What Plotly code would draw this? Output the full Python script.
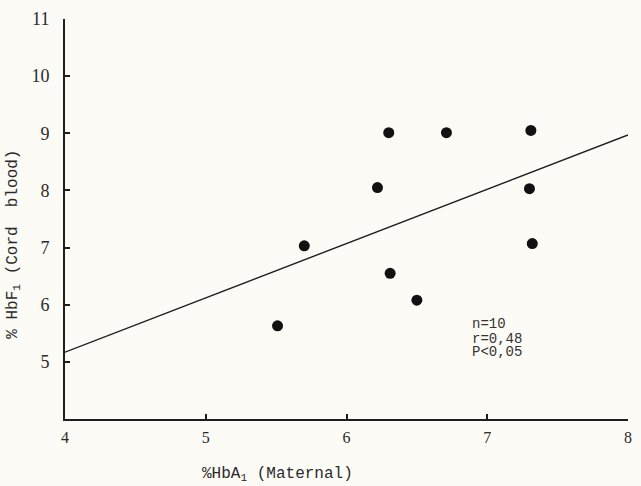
import plotly.graph_objects as go

# Data
hba1_maternal = [5.51, 5.70, 6.22, 6.30, 6.31, 6.50, 6.71, 7.31, 7.30, 7.32]
hbf1_cord = [5.63, 7.03, 8.05, 9.01, 6.55, 6.08, 9.01, 9.05, 8.03, 7.07]

# Regression line end points
fit_x = [4, 8]
fit_y = [5.17, 8.97]

x_ticks = [4, 5, 6, 7, 8]
y_ticks = [5, 6, 7, 8, 9, 10, 11]

stats_lines = ["n=10", "r=0,48", "P<0,05"]
stats_y = [5.675, 5.41, 5.19]
stats_x = 6.88

ink = "#1e1e1e"
bg = "#fcfbf6"
mono = "Liberation Mono, Courier New, monospace"
serif = "Liberation Serif, Times New Roman, serif"

fig = go.Figure()
fig.add_trace(go.Scatter(
    x=fit_x, y=fit_y, mode="lines",
    line=dict(color=ink, width=1.4), hoverinfo="skip", showlegend=False,
))
fig.add_trace(go.Scatter(
    x=hba1_maternal, y=hbf1_cord, mode="markers",
    marker=dict(color="#111111", size=11, line=dict(width=0)),
    showlegend=False,
))

for txt, yy in zip(stats_lines, stats_y):
    fig.add_annotation(x=stats_x, y=yy, xref="x", yref="y", text=txt,
                       showarrow=False, xanchor="left", yanchor="middle",
                       height=13,
                       font=dict(family=mono, size=14, color="#333333"))

fig.add_annotation(x=0.377, y=-0.139, xref="paper", yref="paper",
                   text="%HbA<sub>1</sub> (Maternal)", showarrow=False,
                   xanchor="center", yanchor="middle",
                   font=dict(family=mono, size=16, color="#2a2a2a"))
fig.add_annotation(x=-0.0917, y=0.4367, xref="paper", yref="paper",
                   text="% HbF<sub>1</sub> (Cord  blood)", showarrow=False,
                   textangle=-90, xanchor="center", yanchor="middle",
                   font=dict(family=mono, size=16, color="#2a2a2a"))

fig.update_xaxes(
    range=[4, 8], tickvals=x_ticks, ticktext=[str(v) for v in x_ticks],
    showline=True, linecolor=ink, linewidth=2, mirror=False,
    ticks="inside", ticklen=5, tickwidth=1.5, tickcolor=ink,
    showgrid=False, zeroline=False,
    tickfont=dict(family=serif, size=16, color="#2a2a2a"),
    ticklabelstandoff=3,
)
fig.update_yaxes(
    range=[4, 11], tickvals=y_ticks, ticktext=[str(v) for v in y_ticks],
    showline=True, linecolor=ink, linewidth=2, mirror=False,
    ticks="inside", ticklen=5, tickwidth=1.5, tickcolor=ink,
    showgrid=False, zeroline=False,
    tickfont=dict(family=serif, size=18, color="#2a2a2a"),
    ticklabelstandoff=10,
)
fig.update_layout(
    width=641, height=486,
    margin=dict(l=65, r=9, t=16, b=67),
    paper_bgcolor=bg, plot_bgcolor=bg,
    showlegend=False,
)

fig.write_html(
    "out.html",
    config={"displayModeBar": False},
    post_script="document.body.style.margin='0';document.body.style.overflow='hidden';document.body.style.background='#fcfbf6';",
)
